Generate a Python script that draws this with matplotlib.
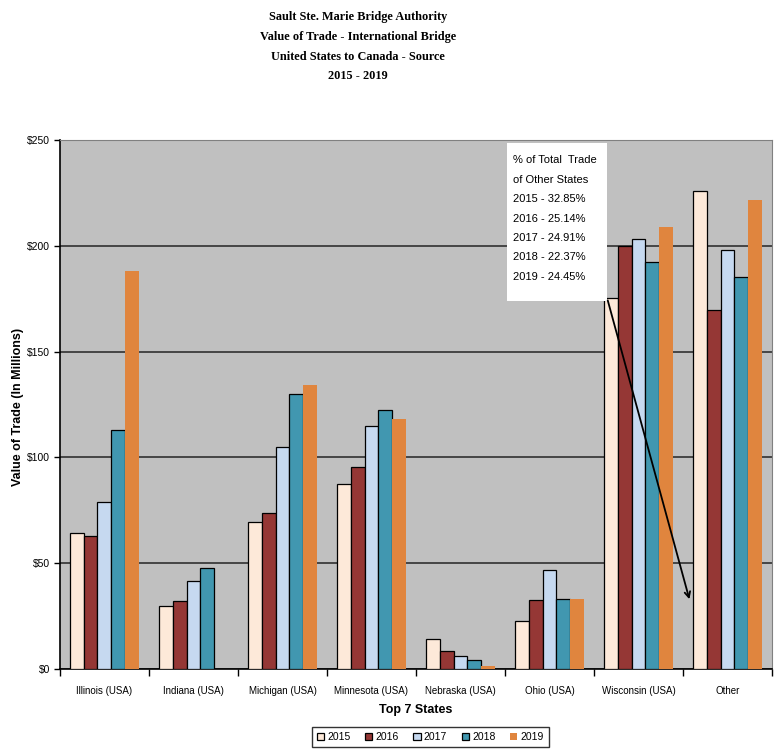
import numpy as np
import matplotlib.pyplot as plt
from matplotlib.patches import Rectangle

states = ['Illinois (USA)', 'Indiana (USA)', 'Michigan (USA)', 'Minnesota (USA)',
          'Nebraska (USA)', 'Ohio (USA)', 'Wisconsin (USA)', 'Other']
years = ['2015', '2016', '2017', '2018', '2019']

v2015 = [64.1, 29.6, 69.5, 87.4, 14.2, 22.7, 175.2, 225.9]
v2016 = [63.0, 32.0, 73.9, 95.3, 8.4, 32.5, 199.8, 169.5]
v2017 = [79.1, 41.4, 104.8, 114.8, 6.3, 46.9, 203.4, 198.0]
v2018 = [113.0, 47.6, 129.8, 122.5, 4.1, 33.1, 192.2, 185.1]
v2019 = [188.2, 0.0, 134.0, 118.0, 1.3, 33.1, 208.9, 221.5]

other_share = ['2015 - 32.85%', '2016 - 25.14%', '2017 - 24.91%',
               '2018 - 22.37%', '2019 - 24.45%']

colors = ['#FDE9D9', '#953735', '#C6D9F0', '#4197B0', '#E0853E']
sans = 'Liberation Sans'

fig = plt.figure(figsize=(7.78, 7.5), dpi=100)
ax = fig.add_axes([0.0771, 0.108, 0.9152, 0.7053])
ax.set_facecolor('#C0C0C0')

x = np.arange(len(states))
w = 0.157
series = [v2015, v2016, v2017, v2018, v2019]
for i, vals in enumerate(series):
    edge = 'black' if i < 4 else 'none'
    ax.bar(x + (i - 2) * w, vals, w, color=colors[i], edgecolor=edge,
           linewidth=0.9, label=years[i], zorder=3)

ax.set_xlim(-0.5, len(states) - 0.5)
ax.set_ylim(0, 250)
ax.set_yticks([0, 50, 100, 150, 200, 250])
ax.set_yticklabels(['$0', '$50', '$100', '$150', '$200', '$250'],
                   family=sans, fontsize=7.5)
ax.yaxis.grid(True, color='#303030', linewidth=1.2, zorder=1)
ax.tick_params(axis='y', direction='out', length=4, width=1, pad=3)

ax.set_xticks(x)
ax.set_xticklabels(states, family=sans, fontsize=7)
ax.set_xticks(np.arange(-0.5, len(states)), minor=True)
ax.tick_params(axis='x', which='major', length=0, pad=12)
ax.tick_params(axis='x', which='minor', direction='out', length=5, width=1)

for s in ['top', 'right']:
    ax.spines[s].set_color('#808080')
for s in ['left', 'bottom']:
    ax.spines[s].set_linewidth(1.2)

fig.text(0.023, 0.458, 'Value of Trade (In Millions)', rotation=90,
         ha='center', va='center', fontsize=9, fontweight='bold', family=sans)
ax.set_xlabel('Top 7 States', fontsize=9, fontweight='bold', family=sans,
              labelpad=6)

# note box about "Other" states
ax.add_patch(Rectangle((4.52, 174), 1.126, 74.6, facecolor='white',
                       edgecolor='none', zorder=5))
lines = ['% of Total  Trade', 'of Other States'] + other_share
for k, t in enumerate(lines):
    ax.text(4.59, 240.5 - k * 9.2, t, family=sans, fontsize=8,
            va='center', ha='left', zorder=6)
ax.annotate('', xy=(6.58, 31.7), xytext=(5.646, 175.5),
            arrowprops=dict(arrowstyle='->', color='black', lw=1.3),
            zorder=6)

fig.text(0.46, 0.985, 'Sault Ste. Marie Bridge Authority\n'
         'Value of Trade - International Bridge\n'
         'United States to Canada - Source\n2015 - 2019',
         ha='center', va='top', family='Liberation Serif', fontweight='bold',
         fontsize=8.8, linespacing=1.85)

leg = fig.legend(loc='upper center', bbox_to_anchor=(0.553, 0.031), ncol=5,
                 frameon=True, fancybox=False, edgecolor='black',
                 prop={'family': sans, 'size': 7.5}, handlelength=0.7,
                 handleheight=0.7, columnspacing=1.4, handletextpad=0.3,
                 borderpad=0.5, borderaxespad=0)
leg.get_frame().set_linewidth(1)

fig.savefig('out.png', dpi=100)
